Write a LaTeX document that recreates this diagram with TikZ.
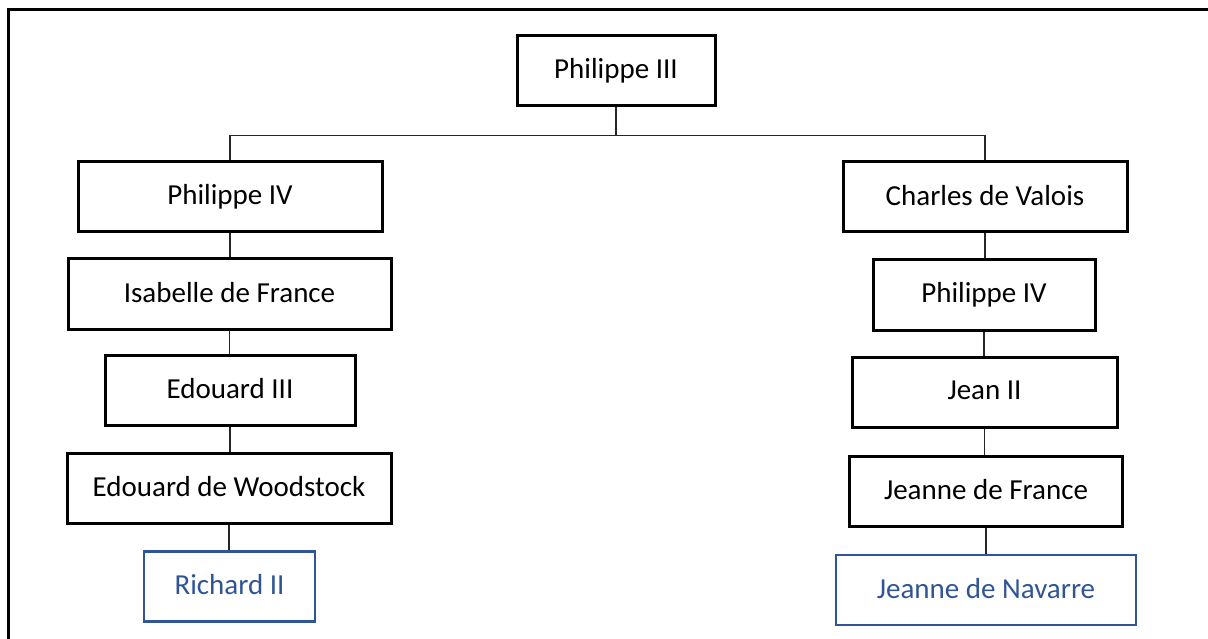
\documentclass[tikz,border=0pt]{standalone}
\usepackage{fontspec}
\setmainfont{Carlito}
\definecolor{navblue}{RGB}{47,85,151}
\begin{document}
\begin{tikzpicture}[x=1pt,y=-1pt,
  person/.style={draw=black, line width=3pt, rectangle, inner sep=0pt,
    minimum height=70pt, font=\fontsize{29}{34}\selectfont, text=black},
  heir/.style={person, draw=navblue, line width=2.6pt, text=navblue},
  link/.style={draw=black!85, line width=1.4pt}]
\useasboundingbox (0,0) rectangle (1208,639);
\draw[line width=2.6pt] (8.5,639) -- (8.5,9.5) -- (1208,9.5);
\node[person, minimum width=198pt] (p3) at (616,70.5) {\raisebox{4pt}{Philippe III}};
% left branch
\node[person, minimum width=304pt] (p4l) at (230,197) {\raisebox{4pt}{Philippe IV}};
\node[person, minimum width=323pt] (isa) at (229.5,294) {\raisebox{4pt}{Isabelle de France}};
\node[person, minimum width=250pt] (ed3) at (230,390.5) {\raisebox{4pt}{Edouard III}};
\node[person, minimum width=324pt] (edw) at (229,488) {\raisebox{4pt}{Edouard de Woodstock}};
\node[heir, minimum width=171pt] (ric) at (229.5,586.5) {\raisebox{4pt}{Richard II}};
% right branch
\node[person, minimum width=284pt] (cha) at (985,197) {\raisebox{4pt}{Charles de Valois}};
\node[person, minimum width=222pt] (p4r) at (984,295) {\raisebox{4pt}{Philippe IV}};
\node[person, minimum width=265pt] (j2) at (984.5,392) {\raisebox{4pt}{Jean II}};
\node[person, minimum width=273pt] (jf) at (986,491) {\raisebox{4pt}{Jeanne de France}};
\node[heir, minimum width=300pt] (jn) at (986,590) {\raisebox{4pt}{Jeanne de Navarre}};
% connectors
\coordinate (bar) at (616,135.5);
\draw[link] (p3.south) -- (bar);
\draw[link] (p4l.north) -- (p4l.north |- bar) -- (cha.north |- bar) -- (cha.north);
\foreach \a/\b in {p4l/isa, isa/ed3, ed3/edw, edw/ric, cha/p4r, p4r/j2, j2/jf, jf/jn}
  \draw[link] (\a.south) -- (\a.south |- \b.north);
\end{tikzpicture}
\end{document}
